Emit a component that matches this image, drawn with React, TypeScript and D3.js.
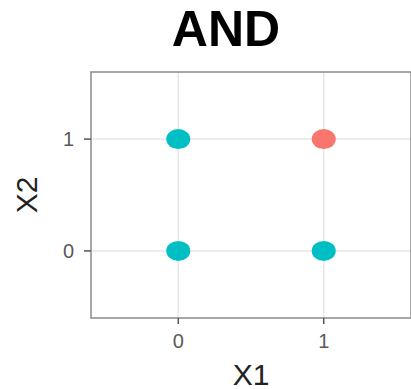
import React from "react";
import * as d3 from "d3";

// Truth table of the AND gate
const x1Values = [0, 0, 1, 1];
const x2Values = [0, 1, 0, 1];
const outputs = [0, 0, 0, 1];
const tickValues = [0, 1];
const outputColors = ["#00BFC4", "#F8766D"];

const W = 411;
const H = 389;
const panel = { left: 91, right: 411, top: 72, bottom: 318 };

export default function App() {
  const x = d3.scaleLinear().domain([-0.6, 1.6]).range([panel.left, panel.right]);
  const y = d3.scaleLinear().domain([-0.6, 1.6]).range([panel.bottom, panel.top]);
  const color = d3.scaleOrdinal<number, string>().domain([0, 1]).range(outputColors);
  const points = x1Values.map((v, i) => ({ x1: v, x2: x2Values[i], out: outputs[i] }));

  return (
    <svg
      width={W}
      height={H}
      style={{ position: "absolute", left: 0, top: 0, background: "#fff" }}
      fontFamily="Liberation Sans, Arial, sans-serif"
    >
      <text x={226} y={46} textAnchor="middle" fontSize={50} fontWeight="bold" fill="#000">
        AND
      </text>

      {/* grid */}
      {tickValues.map((t) => (
        <g key={"g" + t}>
          <line x1={x(t)} x2={x(t)} y1={panel.top} y2={panel.bottom} stroke="#e6e6e6" strokeWidth={1.5} />
          <line x1={panel.left} x2={panel.right} y1={y(t)} y2={y(t)} stroke="#e6e6e6" strokeWidth={1.5} />
        </g>
      ))}

      {/* panel border */}
      <rect
        x={panel.left}
        y={panel.top}
        width={panel.right - panel.left}
        height={panel.bottom - panel.top}
        fill="none"
        stroke="#8a8a8a"
        strokeWidth={1.5}
      />

      {/* points */}
      {points.map((p, i) => (
        <ellipse key={i} cx={x(p.x1)} cy={y(p.x2)} rx={12} ry={10} fill={color(p.out)} />
      ))}

      {/* x axis */}
      {tickValues.map((t) => (
        <g key={"x" + t}>
          <line x1={x(t)} x2={x(t)} y1={panel.bottom} y2={panel.bottom + 6} stroke="#555" strokeWidth={1.5} />
          <text x={x(t)} y={348} textAnchor="middle" fontSize={20} fill="#5a5a5a">
            {t}
          </text>
        </g>
      ))}
      {/* y axis */}
      {tickValues.map((t) => (
        <g key={"y" + t}>
          <line x1={panel.left - 7} x2={panel.left} y1={y(t)} y2={y(t)} stroke="#555" strokeWidth={1.5} />
          <text x={74} y={y(t) + 7} textAnchor="end" fontSize={20} fill="#5a5a5a">
            {t}
          </text>
        </g>
      ))}

      <text x={251} y={385} textAnchor="middle" fontSize={30} fill="#222">
        X1
      </text>
      <text
        transform={`translate(37,${(panel.top + panel.bottom) / 2}) rotate(-90)`}
        textAnchor="middle"
        fontSize={30}
        fill="#222"
      >
        X2
      </text>
    </svg>
  );
}
